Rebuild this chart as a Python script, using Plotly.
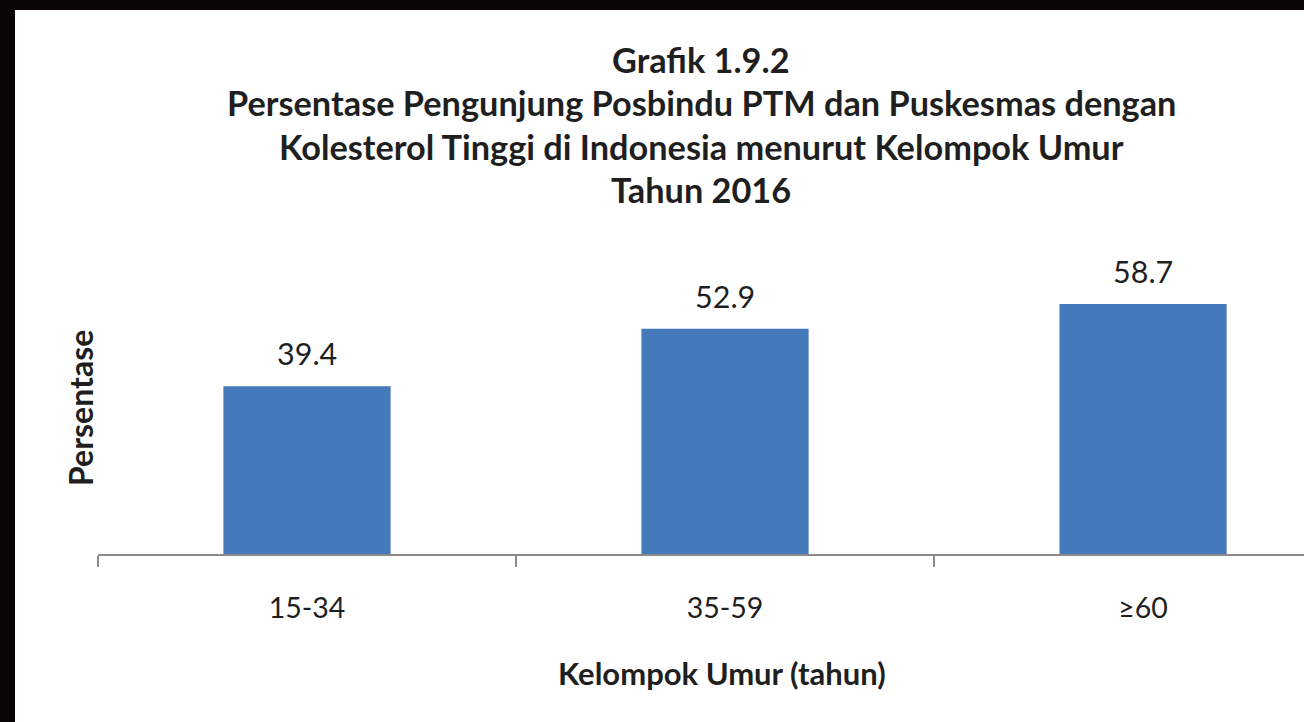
import plotly.graph_objects as go

kelompok_umur = ["15-34", "35-59", "≥60"]
persentase = [39.4, 52.9, 58.7]
judul = [
    "Grafik 1.9.2",
    "Persentase Pengunjung Posbindu PTM dan Puskesmas dengan",
    "Kolesterol Tinggi di Indonesia menurut Kelompok Umur",
    "Tahun 2016",
]

FONT = "Lato"
TEXT = "#1f1f1f"

fig = go.Figure(go.Bar(
    x=kelompok_umur,
    y=persentase,
    width=0.4,
    marker=dict(color="#4479bb", line=dict(width=0)),
    hoverinfo="skip",
))

# data labels above the bars
for k, v in zip(kelompok_umur, persentase):
    fig.add_annotation(x=k, y=v, text=f"{v:.1f}", showarrow=False, yanchor="bottom",
                       yshift=13, font=dict(family=FONT, size=30.5, color=TEXT))

# title lines
for i, line in enumerate(judul):
    fig.add_annotation(xref="paper", yref="paper", x=(701 - 98) / 1206,
                       y=(554 - 59 - 43.5 * i) / 298, text=f"<b>{line}</b>",
                       showarrow=False, xanchor="center", yanchor="middle",
                       font=dict(family=FONT, size=34.3, color=TEXT))

fig.add_annotation(xref="paper", yref="paper", x=(722 - 98) / 1206, y=(554 - 673) / 298,
                   text="<b>Kelompok Umur (tahun)</b>", showarrow=False,
                   xanchor="center", yanchor="middle",
                   font=dict(family=FONT, size=31, color=TEXT))
fig.add_annotation(xref="paper", yref="paper", x=(80 - 98) / 1206, y=(554 - 408) / 298,
                   text="<b>Persentase</b>", showarrow=False, textangle=-90,
                   xanchor="center", yanchor="middle",
                   font=dict(family=FONT, size=32, color=TEXT))

# black scan border on top and left
fig.add_shape(type="rect", xref="paper", yref="paper", x0=-0.2, x1=(15 - 98) / 1206,
              y0=-1, y1=3, fillcolor="#0a0303", line=dict(width=0), layer="above")
fig.add_shape(type="rect", xref="paper", yref="paper", x0=-0.2, x1=1.2,
              y0=(554 - 10) / 298, y1=3, fillcolor="#0a0303", line=dict(width=0), layer="above")

fig.update_layout(
    width=1304,
    height=722,
    margin=dict(l=98, r=0, t=256, b=168),
    paper_bgcolor="white",
    plot_bgcolor="white",
    showlegend=False,
    xaxis=dict(
        range=[-0.5, 2.385],
        tickson="boundaries",
        ticks="outside",
        ticklen=11,
        tickwidth=2,
        tickcolor="#8a8a8a",
        showline=True,
        linecolor="#8a8a8a",
        linewidth=2,
        showgrid=False,
        ticklabelstandoff=28,
        tickfont=dict(family=FONT, size=28.5, color=TEXT),
        fixedrange=True,
    ),
    yaxis=dict(range=[0, 70], visible=False, fixedrange=True),
)

fig.write_html("out.html", config={"displayModeBar": False},
               post_script="document.body.style.margin='0';")
